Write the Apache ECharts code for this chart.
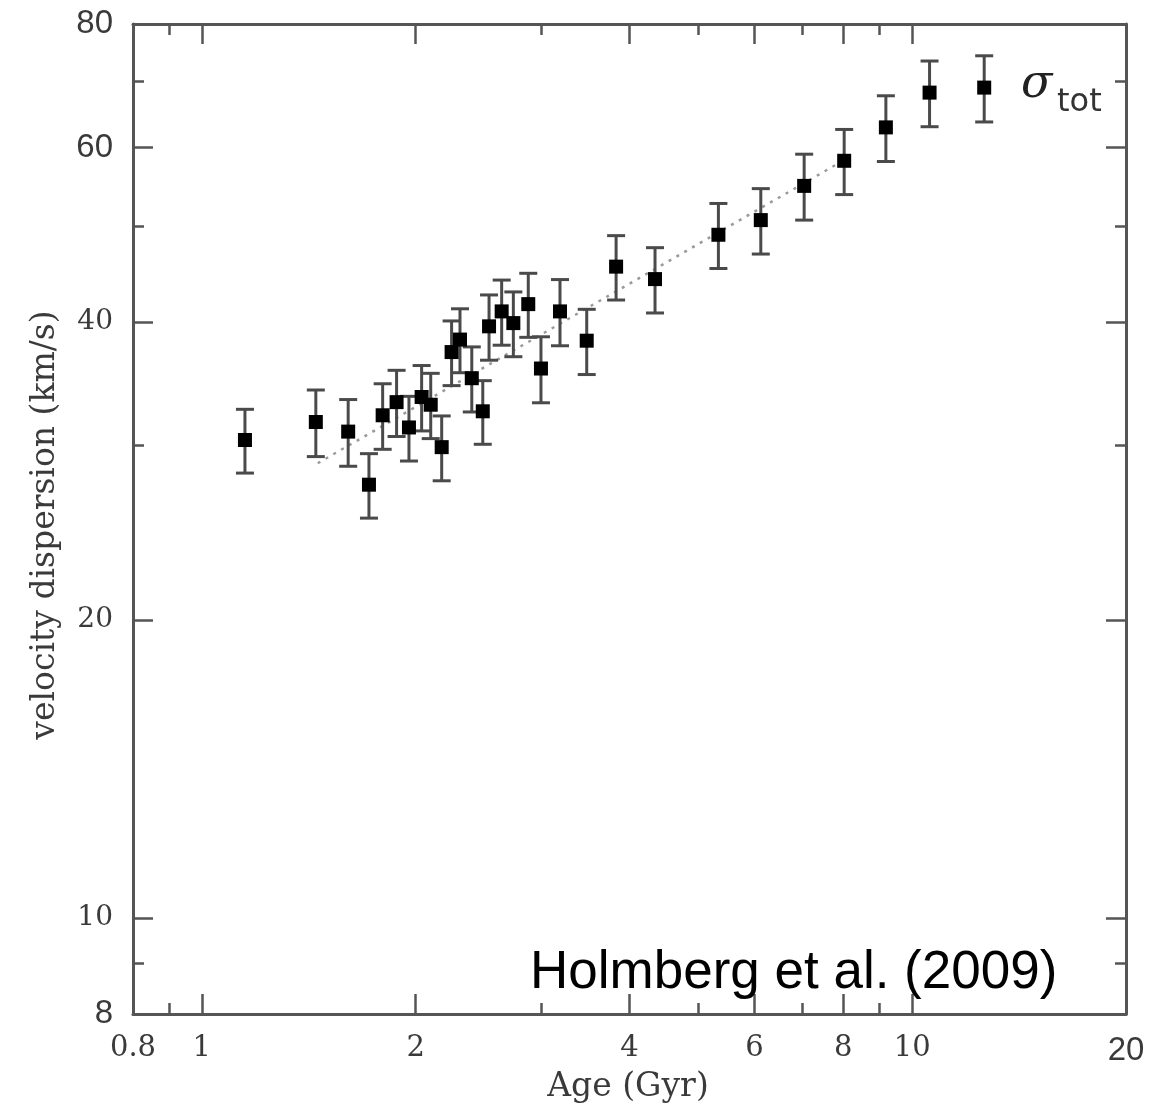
<!DOCTYPE html>
<html>
<head>
<meta charset="utf-8">
<script src="https://cdn.jsdelivr.net/npm/echarts@6/dist/echarts.min.js"></script>
<style>
  html, body { margin: 0; padding: 0; background: #fff; }
  #chart { width: 1151px; height: 1106px; }
</style>
</head>
<body>
<div id="chart"></div>
<script>
// Age–velocity relation, total dispersion (Holmberg et al. 2009)
const ages = [1.15, 1.447, 1.607, 1.719, 1.797, 1.880, 1.957, 2.039, 2.100, 2.176,
              2.247, 2.309, 2.399, 2.486, 2.537, 2.643, 2.745, 2.881, 3.002, 3.193,
              3.482, 3.830, 4.345, 5.336, 6.122, 7.046, 8.022, 9.183, 10.58, 12.63];
const sigmaTot = [30.4, 31.7, 31.0, 27.4, 32.2, 33.2, 31.3, 33.6, 33.0, 29.9,
                  37.3, 38.4, 35.1, 32.5, 39.6, 41.0, 39.9, 41.7, 35.9, 41.0,
                  38.3, 45.5, 44.2, 49.0, 50.7, 54.9, 58.2, 62.9, 68.2, 69.0];
const sigmaErr = [2.25, 2.45, 2.4, 2.05, 2.45, 2.55, 2.35, 2.55, 2.5, 2.25,
                  2.8, 2.85, 2.65, 2.4, 3.0, 3.1, 3.0, 3.1, 2.75, 3.15,
                  2.9, 3.4, 3.35, 3.7, 3.85, 4.2, 4.4, 4.8, 5.2, 5.3];

// power-law fit drawn as a dotted line
const fitAges = [1.456, 8.02];
const fitSigma = [28.8, 58.3];

// axis ticks and labels
const xMajorTicks = [1, 2, 4, 6, 8, 10];
const xMinorTicks = [0.9, 3, 5, 7, 9];
const xTickLabels = [0.8, 1, 2, 4, 6, 8, 10, 20];
const yMajorTicks = [10, 20, 40, 60];
const yMinorTicks = [9, 30, 50, 70];
const yTickLabels = [8, 10, 20, 40, 60, 80];
const sansLabelsX = [20];
const sansLabelsY = [8, 60, 80];

const AXIS_COLOR = '#555';
const LABEL_COLOR = '#3a3a3a';
const SERIF = '"DejaVu Serif", serif';
const SANS = '"Liberation Sans", Arial, sans-serif';

const chart = echarts.init(document.getElementById('chart'), null, { renderer: 'canvas' });

// log-axis values come back with float noise (e.g. 59.9999), tidy them up
function tidy(v) {
  return parseFloat((+v).toPrecision(6));
}

function labelRich(size, sansSize) {
  return {
    r: { fontFamily: SERIF, fontSize: size, color: LABEL_COLOR },
    s: { fontFamily: SANS, fontSize: sansSize, color: LABEL_COLOR }
  };
}

function makeFormatter(sansList) {
  return function (v) {
    const t = tidy(v);
    return (sansList.indexOf(t) >= 0 ? '{s|' : '{r|') + t + '}';
  };
}

function xAxisDef(position, ticks, len, showLine, showLabels) {
  return {
    type: 'log', logBase: 10, min: 0.8, max: 20, position: position,
    axisLine: { show: showLine, onZero: false, lineStyle: { color: AXIS_COLOR, width: 3 } },
    axisTick: { show: true, inside: true, length: len, customValues: ticks,
                lineStyle: { color: AXIS_COLOR, width: 2.5 } },
    axisLabel: showLabels ? {
      show: true, customValues: xTickLabels, margin: 20, interval: 0,
      showMinLabel: true, showMaxLabel: true, fontSize: 29,
      formatter: makeFormatter(sansLabelsX),
      rich: labelRich(29, 33)
    } : { show: false },
    splitLine: { show: false }
  };
}

function yAxisDef(position, ticks, len, showLine, showLabels) {
  return {
    type: 'log', logBase: 10, min: 8, max: 80, position: position,
    axisLine: { show: showLine, onZero: false, lineStyle: { color: AXIS_COLOR, width: 3 } },
    axisTick: { show: true, inside: true, length: len, customValues: ticks,
                lineStyle: { color: AXIS_COLOR, width: 2.5 } },
    axisLabel: showLabels ? {
      show: true, customValues: yTickLabels, margin: 20, interval: 0,
      showMinLabel: true, showMaxLabel: true, fontSize: 28,
      formatter: makeFormatter(sansLabelsY),
      rich: labelRich(28, 33)
    } : { show: false },
    splitLine: { show: false }
  };
}

const errData = ages.map((a, i) => [a, sigmaTot[i] - sigmaErr[i], sigmaTot[i] + sigmaErr[i]]);
const pointData = ages.map((a, i) => [a, sigmaTot[i]]);
const fitData = fitAges.map((a, i) => [a, fitSigma[i]]);

const option = {
  animation: false,
  backgroundColor: '#fff',
  grid: { left: 133, right: 25, top: 24, bottom: 92, containLabel: false },
  xAxis: [
    xAxisDef('bottom', xMajorTicks, 20, true, true),
    xAxisDef('bottom', xMinorTicks, 11, false, false),
    xAxisDef('top', xMajorTicks, 20, true, false),
    xAxisDef('top', xMinorTicks, 11, false, false)
  ],
  yAxis: [
    yAxisDef('left', yMajorTicks, 20, true, true),
    yAxisDef('left', yMinorTicks, 11, false, false),
    yAxisDef('right', yMajorTicks, 20, true, false),
    yAxisDef('right', yMinorTicks, 11, false, false)
  ],
  series: [
    {
      type: 'line', xAxisIndex: 0, yAxisIndex: 0, data: fitData,
      symbol: 'none', silent: true, z: 1,
      lineStyle: { color: '#9a9a9a', width: 2.5, type: [3, 6] }
    },
    {
      type: 'custom', xAxisIndex: 0, yAxisIndex: 0, data: errData, z: 2,
      renderItem: function (params, api) {
        const lo = api.coord([api.value(0), api.value(1)]);
        const hi = api.coord([api.value(0), api.value(2)]);
        const cap = 9;
        const st = { stroke: '#4a4a4a', lineWidth: 3 };
        return {
          type: 'group',
          children: [
            { type: 'line', shape: { x1: lo[0], y1: lo[1], x2: hi[0], y2: hi[1] }, style: st },
            { type: 'line', shape: { x1: lo[0] - cap, y1: lo[1], x2: lo[0] + cap, y2: lo[1] }, style: st },
            { type: 'line', shape: { x1: hi[0] - cap, y1: hi[1], x2: hi[0] + cap, y2: hi[1] }, style: st }
          ]
        };
      }
    },
    {
      type: 'scatter', xAxisIndex: 0, yAxisIndex: 0, data: pointData, z: 3,
      symbol: 'rect', symbolSize: 14,
      itemStyle: { color: '#000', opacity: 1 }
    }
  ],
  graphic: [
    {
      type: 'text', z: 10,
      style: { text: 'Age (Gyr)', x: 628, y: 1087, align: 'center', verticalAlign: 'middle',
               font: '33px ' + SERIF, fill: LABEL_COLOR }
    },
    {
      type: 'text', z: 10, x: 45, y: 525, rotation: Math.PI / 2,
      style: { text: 'velocity dispersion (km/s)', x: 0, y: 0, align: 'center', verticalAlign: 'middle',
               font: '33px ' + SERIF, fill: LABEL_COLOR }
    },
    {
      type: 'text', z: 10,
      style: { text: 'Holmberg et al. (2009)', x: 530, y: 973, align: 'left', verticalAlign: 'middle',
               font: '53px ' + SANS, fill: '#000' }
    },
    {
      type: 'text', z: 10,
      style: { text: 'σ', x: 1021, y: 85, align: 'left', verticalAlign: 'middle',
               font: 'italic 46px "DejaVu Serif", serif', fill: '#222' }
    },
    {
      type: 'text', z: 10,
      style: { text: 'tot', x: 1057, y: 103, align: 'left', verticalAlign: 'middle',
               font: '32px "DejaVu Sans", sans-serif', fill: '#333' }
    }
  ]
};

chart.setOption(option);
</script>
</body>
</html>
